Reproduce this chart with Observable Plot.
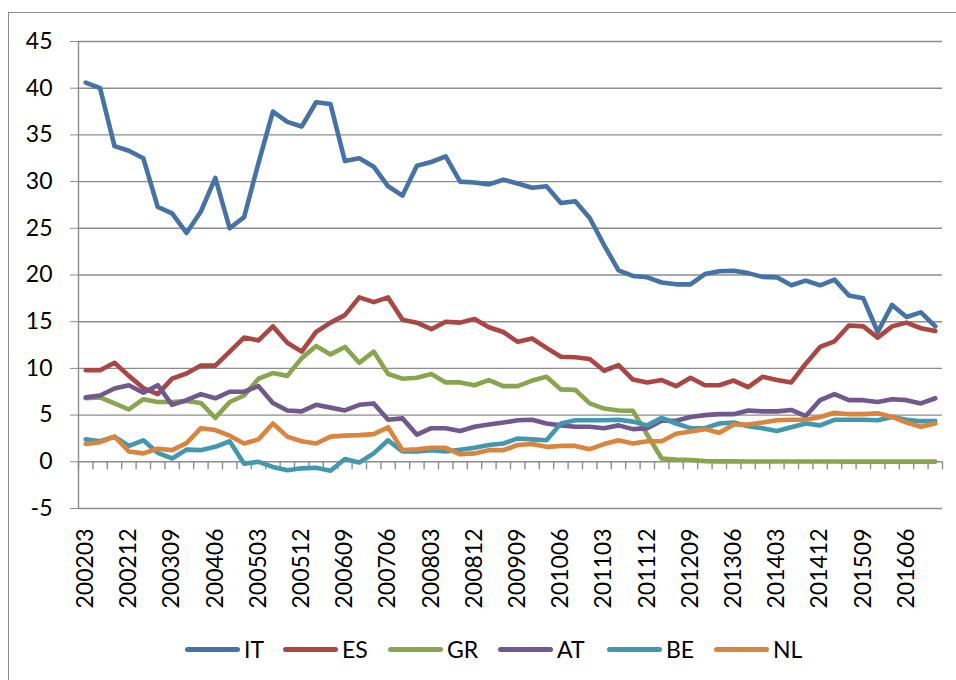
<!DOCTYPE html>
<html><head><meta charset="utf-8">
<script src="https://cdn.jsdelivr.net/npm/d3@7"></script>
<script src="https://cdn.jsdelivr.net/npm/@observablehq/plot@0.6"></script>
<style>
html,body{margin:0;padding:0;background:#fff;overflow:hidden;}
#wrap{position:relative;width:956px;height:680px;overflow:hidden;font-family:Lato,sans-serif;background:#fff;}
#frame{position:absolute;left:8px;top:12px;width:1000px;height:720px;border:1px solid #8c8c8c;}
#chart{position:absolute;left:0;top:0;}
#chart svg text{fill:#000;}
#legend{position:absolute;left:185px;top:634px;height:30px;display:flex;align-items:center;font-size:23px;color:#000;font-family:Lato,sans-serif;}
.item{display:flex;align-items:center;}
.sw{width:55px;height:5px;border-radius:3px;margin-right:4px;flex:none;}
</style></head><body>
<div id="wrap"><div id="frame"></div><div id="chart"></div><div id="legend"></div></div>
<script>
const quarters = [
 "200203","200206","200209","200212","200303","200306","200309","200312",
 "200403","200406","200409","200412","200503","200506","200509","200512",
 "200603","200606","200609","200612","200703","200706","200709","200712",
 "200803","200806","200809","200812","200903","200906","200909","200912",
 "201003","201006","201009","201012","201103","201106","201109","201112",
 "201203","201206","201209","201212","201303","201306","201309","201312",
 "201403","201406","201409","201412","201503","201506","201509","201512",
 "201603","201606","201609","201612"];
const xTickLabels = ["200203","200212","200309","200406","200503","200512","200609","200706","200803","200812","200909","201006","201103","201112","201209","201306","201403","201412","201509","201606"];
const yTicks = [-5,0,5,10,15,20,25,30,35,40,45];
const seriesNames = ["IT","ES","GR","AT","BE","NL"];
const seriesColors = ["#4572A7","#AA4643","#89A54E","#71588F","#4198AF","#DB843D"];

const IT = [40.6,40.0,33.8,33.3,32.5,27.3,26.6,24.5,26.8,30.4,25.0,26.2,32.0,37.5,36.4,35.9,38.5,38.3,32.2,32.5,31.6,29.5,28.5,31.7,32.1,32.7,30.0,29.9,29.7,30.2,29.8,29.35,29.5,27.7,27.9,26.1,23.2,20.5,19.9,19.75,19.2,19.0,19.0,20.1,20.4,20.45,20.2,19.8,19.75,18.9,19.4,18.9,19.5,17.8,17.5,13.9,16.8,15.5,16.0,14.5];
const ES = [9.8,9.8,10.6,9.2,7.9,7.25,8.9,9.45,10.3,10.3,11.8,13.3,13.0,14.5,12.75,11.8,13.9,14.9,15.7,17.6,17.1,17.6,15.2,14.9,14.2,15.0,14.9,15.3,14.4,13.9,12.85,13.2,12.2,11.25,11.2,11.0,9.75,10.35,8.8,8.5,8.75,8.1,9.0,8.2,8.2,8.7,8.0,9.1,8.75,8.5,10.5,12.3,12.9,14.6,14.5,13.3,14.5,14.9,14.3,14.0];
const GR = [6.8,6.9,6.25,5.6,6.7,6.4,6.4,6.5,6.3,4.7,6.4,7.1,8.9,9.5,9.2,11.1,12.4,11.5,12.3,10.6,11.8,9.4,8.9,9.0,9.4,8.5,8.5,8.2,8.75,8.1,8.1,8.7,9.1,7.75,7.7,6.25,5.7,5.5,5.45,2.9,0.36,0.25,0.2,0.07,0.05,0.05,0.04,0.04,0.03,0.03,0.03,0.03,0.03,0.02,0.02,0.02,0.02,0.02,0.02,0.02];
const AT = [6.9,7.1,7.85,8.2,7.4,8.2,6.1,6.6,7.25,6.8,7.5,7.5,8.1,6.3,5.5,5.4,6.1,5.8,5.5,6.1,6.25,4.5,4.65,2.9,3.6,3.6,3.3,3.75,4.0,4.2,4.45,4.5,4.1,3.9,3.75,3.75,3.6,3.9,3.5,3.6,4.4,4.4,4.8,5.0,5.1,5.1,5.5,5.4,5.4,5.55,4.9,6.6,7.25,6.6,6.6,6.4,6.7,6.6,6.25,6.8];
const BE = [2.4,2.2,2.7,1.7,2.3,0.96,0.36,1.3,1.25,1.6,2.2,-0.2,0.0,-0.55,-0.9,-0.7,-0.64,-0.95,0.3,-0.07,0.9,2.3,1.1,1.1,1.25,1.1,1.3,1.5,1.8,1.96,2.5,2.4,2.3,4.1,4.45,4.45,4.45,4.5,4.3,3.9,4.7,4.1,3.6,3.6,4.1,4.2,3.8,3.6,3.3,3.7,4.1,3.9,4.5,4.5,4.5,4.45,4.8,4.5,4.35,4.35];
const NL = [1.9,2.1,2.7,1.1,0.9,1.4,1.25,2.0,3.6,3.4,2.8,1.96,2.4,4.1,2.7,2.2,1.96,2.7,2.8,2.86,2.96,3.7,1.25,1.35,1.5,1.5,0.8,0.9,1.25,1.25,1.8,1.9,1.6,1.7,1.7,1.35,1.9,2.3,1.96,2.2,2.2,3.0,3.25,3.5,3.1,4.0,4.0,4.2,4.45,4.5,4.5,4.8,5.25,5.1,5.1,5.2,4.8,4.2,3.75,4.1];

const seriesValues = [IT, ES, GR, AT, BE, NL];
const rows = [];
seriesNames.forEach((s, k) => seriesValues[k].forEach((v, i) => rows.push({s, i, v})));

const n = quarters.length;
const xDomain = [-0.5, n - 0.5];
const boundaries = d3.range(n + 1).map(i => i - 0.5);
const tickIdx = xTickLabels.map(l => quarters.indexOf(l));
const gridColor = "#8c8c8c";

const chart = Plot.plot({
  width: 956,
  height: 625,
  marginLeft: 78,
  marginRight: 14,
  marginTop: 41,
  marginBottom: 117,
  style: {fontFamily: "Lato, sans-serif", fontSize: "23px", color: gridColor, background: "transparent", overflow: "visible"},
  x: {type: "linear", domain: xDomain, ticks: tickIdx, tickFormat: i => quarters[i], tickRotate: -90, tickSize: 0, tickPadding: 20, label: null},
  y: {domain: [yTicks[0], yTicks[yTicks.length - 1]], ticks: yTicks, tickFormat: d => String(d), tickSize: 8, tickPadding: 18, label: null},
  color: {domain: seriesNames, range: seriesColors},
  marks: [
    Plot.ruleY(yTicks, {stroke: gridColor, strokeWidth: 1.4}),
    Plot.ruleX([xDomain[0]], {stroke: gridColor, strokeWidth: 1.4}),
    Plot.ruleX(boundaries, {x: d => d, y1: 0, y2: 0, insetBottom: -8, stroke: gridColor, strokeWidth: 1.4}),
    Plot.line(rows, {x: "i", y: "v", z: "s", stroke: "s", strokeWidth: 4.6, strokeLinejoin: "round", strokeLinecap: "round"})
  ]
});
document.getElementById("chart").appendChild(chart);

const legendItemWidths = [98, 105, 110, 109, 107, 90];
const legend = document.getElementById("legend");
seriesNames.forEach((s, k) => {
  const it = document.createElement("div");
  it.className = "item";
  it.style.width = legendItemWidths[k] + "px";
  const sw = document.createElement("div");
  sw.className = "sw";
  sw.style.background = seriesColors[k];
  const t = document.createElement("span");
  t.textContent = s;
  it.appendChild(sw); it.appendChild(t);
  legend.appendChild(it);
});
</script>
</body></html>
